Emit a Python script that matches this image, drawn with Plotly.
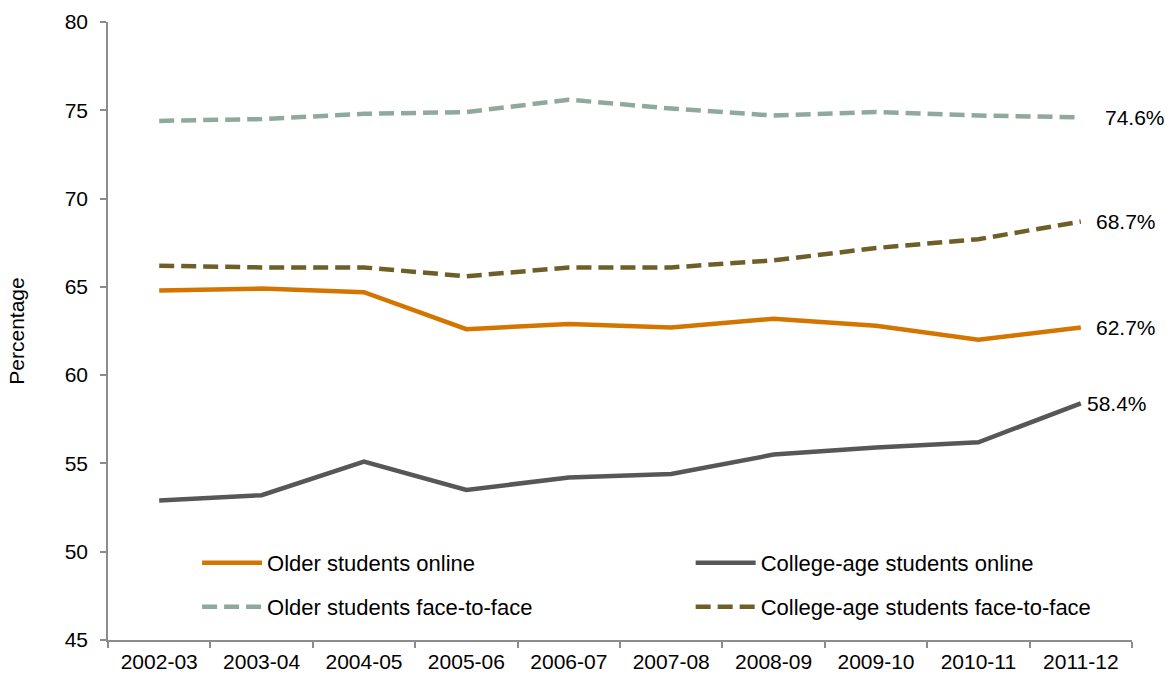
import plotly.graph_objects as go

years = ["2002-03", "2003-04", "2004-05", "2005-06", "2006-07",
         "2007-08", "2008-09", "2009-10", "2010-11", "2011-12"]
older_online = [64.8, 64.9, 64.7, 62.6, 62.9, 62.7, 63.2, 62.8, 62.0, 62.7]
college_online = [52.9, 53.2, 55.1, 53.5, 54.2, 54.4, 55.5, 55.9, 56.2, 58.4]
older_f2f = [74.4, 74.5, 74.8, 74.9, 75.6, 75.1, 74.7, 74.9, 74.7, 74.6]
college_f2f = [66.2, 66.1, 66.1, 65.6, 66.1, 66.1, 66.5, 67.2, 67.7, 68.7]

# name, values, colour, dash, label shift, legend id, legend position
series = [
    ("Older students online", older_online, "#D47500", "solid", 13, "legend", (0.087, 0.1246)),
    ("College-age students online", college_online, "#575757", "solid", 4, "legend2", (0.569, 0.1246)),
    ("Older students face-to-face", older_f2f, "#8FAA9D", "15px,7px", 22, "legend3", (0.087, 0.0534)),
    ("College-age students face-to-face", college_f2f, "#6E5F28", "15px,7px", 13, "legend4", (0.569, 0.0534)),
]

FONT = "Liberation Sans, Arial, sans-serif"
FS = 21
LFS = 22

fig = go.Figure()
legends = {}
for name, vals, color, dash, shift, leg, (lx, ly) in series:
    fig.add_trace(go.Scatter(
        x=years, y=vals, mode="lines", name=name, legend=leg,
        line=dict(color=color, width=4.5, dash=dash),
    ))
    fig.add_annotation(
        x=years[-1], y=vals[-1], text=f"{vals[-1]:.1f}%",
        showarrow=False, xanchor="left", yanchor="middle", xshift=shift,
        font=dict(family=FONT, size=FS, color="#000000"),
    )
    legends[leg] = dict(
        x=lx, y=ly, xanchor="left", yanchor="middle",
        font=dict(family=FONT, size=LFS, color="#000000"),
        bgcolor="rgba(0,0,0,0)", itemwidth=60,
    )

fig.update_layout(
    width=1176, height=677,
    margin=dict(l=108, r=44, t=22, b=37),
    paper_bgcolor="white", plot_bgcolor="white",
    font=dict(family=FONT, size=FS, color="#000000"),
    showlegend=True,
    xaxis=dict(
        type="category", categoryorder="array", categoryarray=years,
        showline=True, linecolor="#8C8C8C", linewidth=1.5,
        ticks="outside", ticklen=6, tickcolor="#8C8C8C", tickwidth=1.5,
        tickson="boundaries", showgrid=False, zeroline=False,
        range=[-0.5, 9.5], tickfont=dict(size=FS), ticklabelstandoff=2,
        automargin=False,
    ),
    yaxis=dict(
        range=[45, 80], dtick=5, tick0=45,
        showline=True, linecolor="#8C8C8C", linewidth=1.5,
        ticks="outside", ticklen=6, tickcolor="#8C8C8C", tickwidth=1.5,
        showgrid=False, zeroline=False, tickfont=dict(size=FS),
        ticklabelstandoff=8, automargin=False,
        title=dict(text="Percentage", font=dict(size=FS), standoff=34),
    ),
)
fig.update_layout(**legends)

fig.write_html("out.html")
